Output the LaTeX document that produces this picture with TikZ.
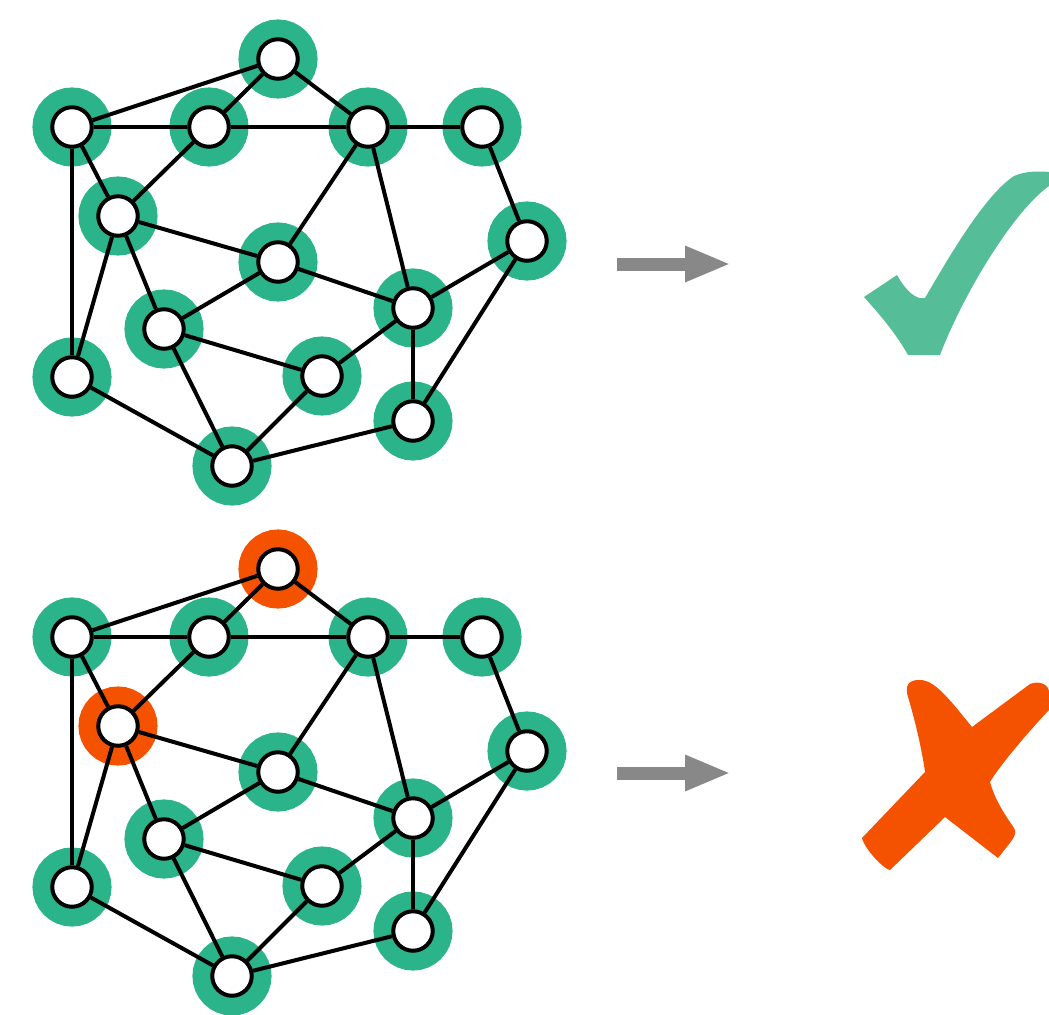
\documentclass[tikz,border=0pt]{standalone}
\usetikzlibrary{arrows.meta}
\definecolor{ringgreen}{HTML}{2BB38A}
\definecolor{ringorange}{HTML}{F55200}
\definecolor{checkgreen}{HTML}{55BE98}
\definecolor{arrowgray}{HTML}{888888}

\begin{document}
\begin{tikzpicture}[x=0.02cm,y=-0.02cm,
    vtx/.style={circle,draw=black,fill=white,line width=0.08cm,minimum size=0.79cm,inner sep=0pt,
      preaction={draw=#1,line width=0.79cm}},
    vtx/.default=ringgreen,
    edge/.style={line width=0.08cm},
    flow/.style={draw=arrowgray,line width=0.26cm,-{Triangle[length=0.92cm,width=0.66cm]}}]
  \useasboundingbox (0,0) rectangle (1049,1015);
  % top graph: every vertex is fine
  \node[vtx] (t1) at (278,59) {};
  \node[vtx] (t2) at (72,127) {};
  \node[vtx] (t3) at (209,127) {};
  \node[vtx] (t4) at (368,127) {};
  \node[vtx] (t5) at (482,127) {};
  \node[vtx] (t6) at (118,216) {};
  \node[vtx] (t7) at (527,241) {};
  \node[vtx] (t8) at (278,262) {};
  \node[vtx] (t9) at (164,329) {};
  \node[vtx] (t10) at (413,308) {};
  \node[vtx] (t11) at (72,377) {};
  \node[vtx] (t12) at (322,376) {};
  \node[vtx] (t13) at (413,421) {};
  \node[vtx] (t14) at (232,466) {};
  % bottom graph: two clashing vertices
  \node[vtx=ringorange] (b1) at (278,569) {};
  \node[vtx] (b2) at (72,637) {};
  \node[vtx] (b3) at (209,637) {};
  \node[vtx] (b4) at (368,637) {};
  \node[vtx] (b5) at (482,637) {};
  \node[vtx=ringorange] (b6) at (118,726) {};
  \node[vtx] (b7) at (527,751) {};
  \node[vtx] (b8) at (278,772) {};
  \node[vtx] (b9) at (164,839) {};
  \node[vtx] (b10) at (413,818) {};
  \node[vtx] (b11) at (72,887) {};
  \node[vtx] (b12) at (322,886) {};
  \node[vtx] (b13) at (413,931) {};
  \node[vtx] (b14) at (232,976) {};
  % edges, same for both graphs
  \foreach \g in {t,b}
    \foreach \u/\v in {1/2,1/3,1/4,2/3,3/4,4/5,2/6,2/11,3/6,6/8,6/11,6/9,4/8,4/10,5/7,7/10,
                       7/13,8/9,8/10,9/12,9/14,10/12,10/13,11/14,12/14,13/14}
      \draw[edge] (\g\u) -- (\g\v);
  % arrows
  \coordinate (s1) at (617,264);
  \coordinate (e1) at (731,264);
  \coordinate (s2) at (617,773);
  \coordinate (e2) at (731,773);
  \draw[flow] (s1) -- (e1);
  \draw[flow] (s2) -- (e2);
  % check mark
  \fill[checkgreen] (864,297) -- (897,275) .. controls (906,291) and (916,300) .. (925,298)
    .. controls (950,255) and (985,195) .. (1014,176) .. controls (1025,171) and (1040,171) .. (1049,172)
    -- (1049,186) .. controls (1015,210) and (965,290) .. (940,355) -- (908,355)
    .. controls (895,332) and (880,315) .. cycle;
  % cross
  \fill[ringorange] (908,697) .. controls (903,680) and (915,680) .. (920,680)
    .. controls (935,680) and (950,700) .. (972,727)
    -- (1030,684) .. controls (1040,680) and (1049,685) .. (1049,692) -- (1049,710)
    .. controls (1030,730) and (1000,765) .. (990,782)
    .. controls (995,800) and (1005,815) .. (1014,828)
    .. controls (1018,835) and (1012,840) .. (998,858)
    -- (945,817) -- (890,870) .. controls (885,870) and (865,850) .. (862,838)
    -- (925,772) .. controls (922,750) and (915,720) .. cycle;
\end{tikzpicture}
\end{document}
